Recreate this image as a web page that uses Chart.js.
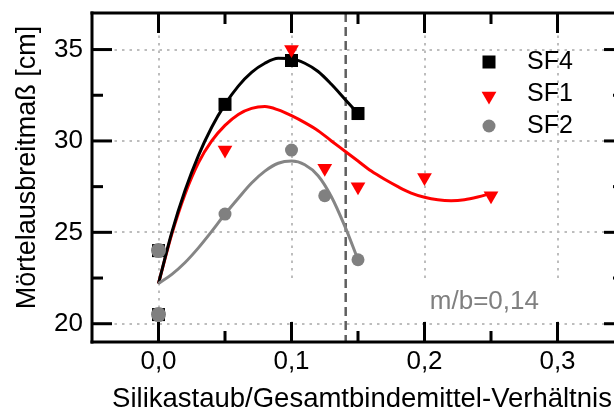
<!DOCTYPE html>
<html>
<head>
<meta charset="utf-8">
<script src="https://cdn.jsdelivr.net/npm/chart.js@4"></script>
<style>
html,body{margin:0;padding:0;overflow:hidden;background:#fff;}
canvas{display:block;}
</style>
</head>
<body>
<canvas id="c" width="640" height="409"></canvas>
<script>
// ---- axis ticks ----
const xTickValues = [0, 0.1, 0.2, 0.3];
const xTickLabels = ['0,0', '0,1', '0,2', '0,3'];
const xMinorTicks = [0.05, 0.15, 0.25];
const yTickValues = [20, 25, 30, 35];
const yTickLabels = ['20', '25', '30', '35'];
const yMinorTicks = [22.5, 27.5, 32.5];

// ---- measured points ----
const sf4X = [0, 0, 0.05, 0.1, 0.15];
const sf4Y = [24, 20.5, 32, 34.4, 31.5];
const sf1X = [0.05, 0.1, 0.125, 0.15, 0.2, 0.25];
const sf1Y = [29.5, 35, 28.5, 27.5, 28, 27];
const sf2X = [0, 0, 0.05, 0.1, 0.125, 0.15];
const sf2Y = [24, 20.5, 26, 29.5, 27, 23.5];

// ---- fit curves ----
const fitSF4X = [0, 0.01, 0.02, 0.03, 0.04, 0.05, 0.06, 0.07, 0.08, 0.09, 0.1, 0.11, 0.12, 0.13, 0.14, 0.15];
const fitSF4Y = [22.2, 25.0, 27.3, 29.2, 30.75, 32.0, 33.0, 33.75, 34.25, 34.52, 34.5, 34.25, 33.8, 33.1, 32.3, 31.5];
const fitSF1X = [0, 0.01, 0.02, 0.03, 0.04, 0.05, 0.06, 0.07, 0.08, 0.09, 0.1, 0.11, 0.12, 0.13, 0.14, 0.15, 0.16, 0.17, 0.18, 0.19, 0.2, 0.21, 0.22, 0.23, 0.24, 0.25];
const fitSF1Y = [22.2, 24.9, 27.1, 28.8, 30.0, 30.85, 31.45, 31.78, 31.88, 31.7, 31.38, 31.0, 30.56, 30.0, 29.45, 28.9, 28.35, 27.9, 27.5, 27.15, 26.92, 26.78, 26.73, 26.78, 26.93, 27.13];
const fitSF2X = [0, 0.01, 0.02, 0.03, 0.04, 0.05, 0.06, 0.07, 0.08, 0.09, 0.1, 0.11, 0.12, 0.13, 0.14, 0.15];
const fitSF2Y = [22.2, 22.7, 23.35, 24.15, 25.05, 26.0, 26.87, 27.7, 28.35, 28.78, 28.9, 28.7, 28.1, 26.95, 25.35, 23.5];

const ratioValue = 0.14;
const ratioText = 'm/b=0,14';
const seriesNames = ['SF4', 'SF1', 'SF2'];
const xTitle = 'Silikastaub/Gesamtbindemittel-Verhältnis';
const yTitle = 'Mörtelausbreitmaß [cm]';

const FONT = '"Liberation Sans", Arial, sans-serif';
const pts = (xs, ys) => xs.map((x, i) => ({x: x, y: ys[i]}));

const decor = {
  id: 'decor',
  beforeDatasetsDraw(chart) {
    const ctx = chart.ctx, a = chart.chartArea, xs = chart.scales.x, ys = chart.scales.y;
    ctx.save();
    // dotted grid
    ctx.strokeStyle = '#bdbdbd';
    ctx.lineWidth = 2;
    ctx.setLineDash([2.5, 5]);
    ctx.beginPath();
    xTickValues.forEach(v => { const p = Math.round(xs.getPixelForValue(v)); ctx.moveTo(p, a.top); ctx.lineTo(p, a.bottom); });
    yTickValues.forEach(v => { const p = Math.round(ys.getPixelForValue(v)); ctx.moveTo(a.left, p); ctx.lineTo(a.right, p); });
    ctx.stroke();
    // white label box
    ctx.setLineDash([]);
    ctx.fillStyle = '#fff';
    const bx0 = xs.getPixelForValue(0.03), by0 = ys.getPixelForValue(22.5), by1 = ys.getPixelForValue(20.12);
    ctx.fillRect(bx0, by0, a.right - 6 - bx0, by1 - by0);
    ctx.fillStyle = '#808080';
    ctx.font = '26px ' + FONT;
    ctx.textAlign = 'left';
    ctx.textBaseline = 'alphabetic';
    ctx.fillText(ratioText, xs.getPixelForValue(0.204), ys.getPixelForValue(20.78));
    // dashed ratio line
    ctx.strokeStyle = '#5f5f5f';
    ctx.lineWidth = 2.5;
    ctx.setLineDash([9, 5]);
    ctx.beginPath();
    const rx = xs.getPixelForValue(ratioValue) + 1;
    ctx.moveTo(rx, a.top); ctx.lineTo(rx, a.bottom);
    ctx.stroke();
    ctx.restore();
  },
  afterDraw(chart) {
    const ctx = chart.ctx, a = chart.chartArea, xs = chart.scales.x, ys = chart.scales.y;
    ctx.save();
    ctx.globalAlpha = 1;
    ctx.globalCompositeOperation = 'source-over';
    ctx.fillStyle = '#000';
    const L = a.left, R = a.right, T = a.top, B = a.bottom, W = 3;
    // frame
    ctx.fillRect(L - 1.5, T - 1.5, R - L + 3, W);
    ctx.fillRect(L - 1.5, B - 1.5, R - L + 3, W);
    ctx.fillRect(L - 1.5, T - 1.5, W, B - T + 3);
    ctx.fillRect(R - 1.5, T - 1.5, W, B - T + 3);
    // ticks pointing inward on all four sides
    [[xTickValues, 20], [xMinorTicks, 11]].forEach(([vals, len]) => {
      vals.forEach(v => {
        const px = xs.getPixelForValue(v);
        ctx.fillRect(px - 1.5, B - len, W, len);
        ctx.fillRect(px - 1.5, T, W, len);
      });
    });
    [[yTickValues, 20], [yMinorTicks, 11]].forEach(([vals, len]) => {
      vals.forEach(v => {
        const py = ys.getPixelForValue(v);
        ctx.fillRect(L, py - 1.5, len, W);
        ctx.fillRect(R - len, py - 1.5, len, W);
      });
    });

    // titles
    ctx.fillStyle = '#000';
    ctx.font = '27.5px ' + FONT;
    ctx.textAlign = 'center';
    ctx.textBaseline = 'alphabetic';
    ctx.fillText(xTitle, 362, 407);
    ctx.save();
    ctx.translate(35, (a.top + a.bottom) / 2 - 10);
    ctx.rotate(-Math.PI / 2);
    ctx.font = '27px ' + FONT;
    ctx.fillText(yTitle, 0, 0);
    ctx.restore();

    // legend
    const lx = 489, ly = [62, 94, 126];
    ctx.fillStyle = '#000';
    ctx.fillRect(lx - 6.5, ly[0] - 6.5, 13, 13);
    ctx.fillStyle = '#ff0000';
    ctx.beginPath();
    ctx.moveTo(lx - 7.4, ly[1] - 2.3);
    ctx.lineTo(lx + 7.4, ly[1] - 2.3);
    ctx.lineTo(lx, ly[1] + 10.5);
    ctx.closePath();
    ctx.fill();
    ctx.fillStyle = '#808080';
    ctx.beginPath();
    ctx.arc(lx, ly[2], 6.5, 0, Math.PI * 2);
    ctx.fill();
    ctx.fillStyle = '#000';
    ctx.font = '25px ' + FONT;
    ctx.textAlign = 'left';
    ctx.textBaseline = 'middle';
    seriesNames.forEach((n, i) => ctx.fillText(n, 527, ly[i]));
    ctx.restore();
  }
};

new Chart(document.getElementById('c'), {
  type: 'scatter',
  data: {
    datasets: [
      {label: 'SF2', data: pts(sf2X, sf2Y), order: 0, pointStyle: 'circle',
       pointRadius: c => (c.raw && c.raw.x === 0 ? 7.5 : 6.5), backgroundColor: '#808080', borderWidth: 0, showLine: false},
      {label: 'SF1', data: pts(sf1X, sf1Y), order: 1, pointStyle: 'triangle', rotation: 180,
       pointRadius: 8.5, backgroundColor: '#ff0000', borderWidth: 0, showLine: false},
      {label: 'SF4', data: pts(sf4X, sf4Y), order: 2, pointStyle: 'rect',
       pointRadius: 9.2, backgroundColor: '#000', borderWidth: 0, showLine: false},
      {label: 'fit SF2', data: pts(fitSF2X, fitSF2Y), order: 3, showLine: true, pointRadius: 0,
       borderColor: '#858585', borderWidth: 3, tension: 0.4, cubicInterpolationMode: 'monotone'},
      {label: 'fit SF4', data: pts(fitSF4X, fitSF4Y), order: 4, showLine: true, pointRadius: 0,
       borderColor: '#000', borderWidth: 3, tension: 0.4, cubicInterpolationMode: 'monotone'},
      {label: 'fit SF1', data: pts(fitSF1X, fitSF1Y), order: 5, showLine: true, pointRadius: 0,
       borderColor: '#ff0000', borderWidth: 3, tension: 0.4, cubicInterpolationMode: 'monotone'}
    ]
  },
  options: {
    responsive: false,
    animation: false,
    devicePixelRatio: 1,
    layout: {padding: {top: 13, right: 16, left: 0, bottom: 0}},
    plugins: {legend: {display: false}, tooltip: {enabled: false}},
    scales: {
      x: {
        type: 'linear', min: -0.05, max: 0.35,
        grid: {display: false, drawTicks: false}, border: {display: false},
        afterBuildTicks: s => { s.ticks = xTickValues.map(v => ({value: v})); },
        afterFit: s => { s.height = 67; s.paddingLeft = 0; s.paddingRight = 0; },
        ticks: {autoSkip: false, maxRotation: 0, padding: 4, color: '#000',
          font: {family: FONT, size: 26},
          callback: (v, i) => xTickLabels[i]}
      },
      y: {
        type: 'linear', min: 19, max: 37,
        grid: {display: false, drawTicks: false}, border: {display: false},
        afterBuildTicks: s => { s.ticks = yTickValues.map(v => ({value: v})); },
        afterFit: s => { s.width = 92; s.paddingTop = 0; s.paddingBottom = 0; },
        ticks: {autoSkip: false, padding: 9, color: '#000',
          font: {family: FONT, size: 26},
          callback: (v, i) => yTickLabels[i]}
      }
    }
  },
  plugins: [decor]
});
</script>
</body>
</html>
